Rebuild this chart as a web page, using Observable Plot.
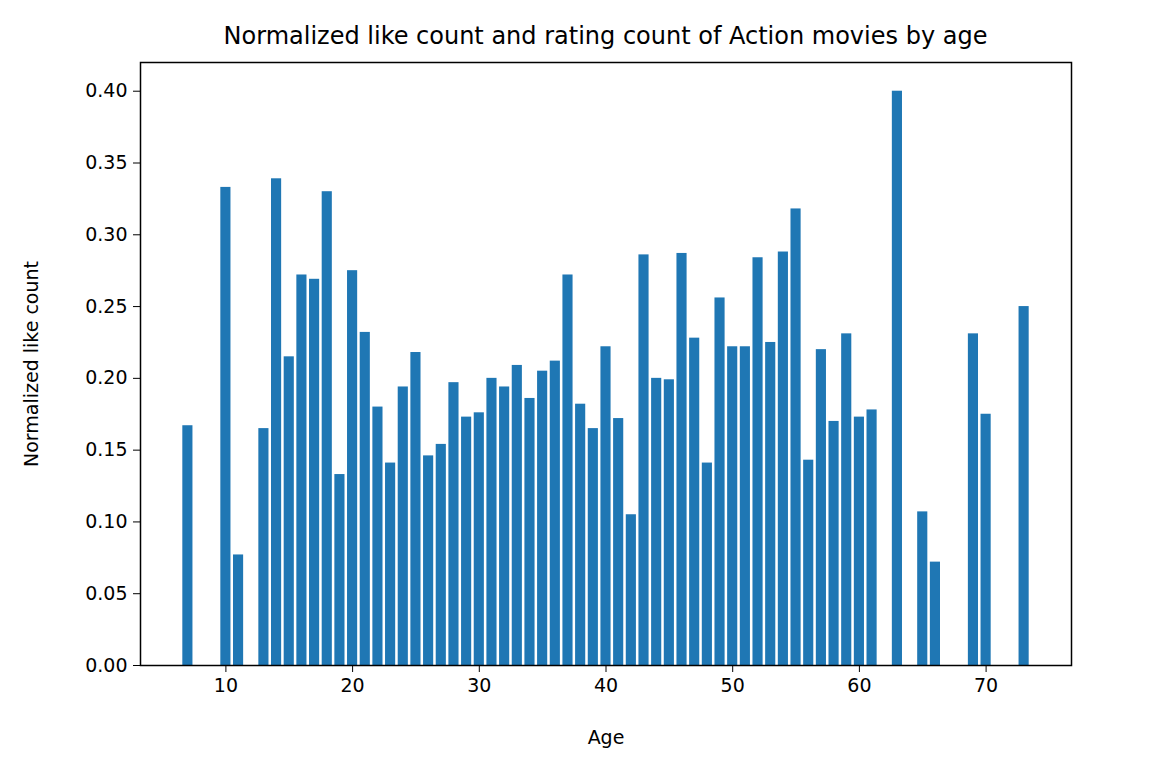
<!DOCTYPE html>
<html>
<head>
<meta charset="utf-8">
<script src="https://cdn.jsdelivr.net/npm/d3@7"></script>
<script src="https://cdn.jsdelivr.net/npm/@observablehq/plot@0.6"></script>
<style>
  body { margin: 0; background: #fff; font-family: "DejaVu Sans", sans-serif; }
  #title { height: 50px; box-sizing: border-box; padding-left: 140px; width: 1071px;
           text-align: center; font-size: 24px; line-height: 72px; color: #000; }
</style>
</head>
<body>
<div id="title">Normalized like count and rating count of Action movies by age</div>
<div id="chart"></div>
<script>
// ages with data
const ages = [7, 10, 11,
  13, 14, 15, 16, 17, 18, 19, 20, 21, 22, 23, 24, 25, 26, 27, 28, 29, 30,
  31, 32, 33, 34, 35, 36, 37, 38, 39, 40, 41, 42, 43, 44, 45, 46, 47, 48, 49, 50,
  51, 52, 53, 54, 55, 56, 57, 58, 59, 60, 61,
  63, 65, 66, 69, 70, 73];
const likes = [0.167, 0.333, 0.077,
  0.165, 0.339, 0.215, 0.272, 0.269, 0.330, 0.133, 0.275, 0.232, 0.180, 0.141, 0.194, 0.218, 0.146, 0.154, 0.197, 0.173, 0.176,
  0.200, 0.194, 0.209, 0.186, 0.205, 0.212, 0.272, 0.182, 0.165, 0.222, 0.172, 0.105, 0.286, 0.200, 0.199, 0.287, 0.228, 0.141, 0.256, 0.222,
  0.222, 0.284, 0.225, 0.288, 0.318, 0.143, 0.220, 0.170, 0.231, 0.173, 0.178,
  0.400, 0.107, 0.072, 0.231, 0.175, 0.250];
const xTicks = [10, 20, 30, 40, 50, 60, 70];
const yTicks = [0, 0.05, 0.10, 0.15, 0.20, 0.25, 0.30, 0.35, 0.40];

const data = ages.map((a, i) => ({age: a, like: likes[i]}));

const chart = Plot.plot({
  width: 1156,
  height: 723,
  marginLeft: 140,
  marginRight: 85,
  marginTop: 12,
  marginBottom: 108,
  style: {fontFamily: "DejaVu Sans, sans-serif", fontSize: "19px", color: "#000", overflow: "visible"},
  x: {domain: [3.26, 76.74]},
  y: {domain: [0, 0.42]},
  marks: [
    Plot.rectY(data, {x1: d => d.age - 0.4, x2: d => d.age + 0.4, y1: 0, y2: "like", fill: "#1f77b4"}),
    Plot.axisX({ticks: xTicks, tickFormat: d => d, tickSize: 7, tickPadding: 6, label: "Age", labelAnchor: "center", labelArrow: "none", labelOffset: 78, fontSize: 19}),
    Plot.axisY({ticks: yTicks, tickFormat: d => d.toFixed(2), tickSize: 7, tickPadding: 6, label: "Normalized like count", labelAnchor: "center", labelArrow: "none", labelOffset: 116, fontSize: 19}),
    Plot.frame({stroke: "#000", strokeWidth: 1.5})
  ]
});
document.getElementById("chart").appendChild(chart);
</script>
</body>
</html>
